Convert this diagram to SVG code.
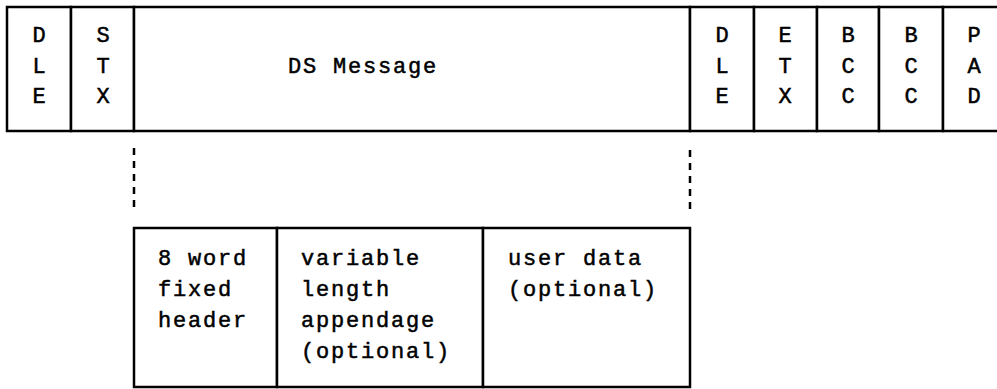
<svg xmlns="http://www.w3.org/2000/svg" width="997" height="389" viewBox="0 0 997 389">
<style>
  .box { fill: #fff; stroke: #000; stroke-width: 2.5; }
  .t { font-family: "Liberation Mono", "DejaVu Sans Mono", monospace; font-size: 22px; letter-spacing: 1.8px; fill: #000; stroke: #000; stroke-width: 0.5; }
  .c { text-anchor: middle; letter-spacing: 0; }
  .dash { stroke: #000; stroke-width: 2.5; stroke-dasharray: 7 6; fill: none; }
</style>
<rect width="997" height="389" fill="#fff"/>
<g id="frame-row">
  <g id="dle1">
    <rect class="box" x="7" y="7" width="64" height="124"/>
    <text class="t c" x="39" y="42">D</text>
    <text class="t c" x="39" y="73">L</text>
    <text class="t c" x="39" y="103">E</text>
  </g>
  <g id="stx">
    <rect class="box" x="71" y="7" width="63" height="124"/>
    <text class="t c" x="103" y="42">S</text>
    <text class="t c" x="103" y="73">T</text>
    <text class="t c" x="103" y="103">X</text>
  </g>
  <g id="ds-message">
    <rect class="box" x="134" y="7" width="556" height="124"/>
    <text class="t" x="288" y="73">DS Message</text>
  </g>
  <g id="dle2">
    <rect class="box" x="690" y="7" width="64" height="124"/>
    <text class="t c" x="722" y="42">D</text>
    <text class="t c" x="722" y="73">L</text>
    <text class="t c" x="722" y="103">E</text>
  </g>
  <g id="etx">
    <rect class="box" x="754" y="7" width="63" height="124"/>
    <text class="t c" x="785" y="42">E</text>
    <text class="t c" x="785" y="73">T</text>
    <text class="t c" x="785" y="103">X</text>
  </g>
  <g id="bcc1">
    <rect class="box" x="817" y="7" width="62" height="124"/>
    <text class="t c" x="848" y="42">B</text>
    <text class="t c" x="848" y="73">C</text>
    <text class="t c" x="848" y="103">C</text>
  </g>
  <g id="bcc2">
    <rect class="box" x="879" y="7" width="64" height="124"/>
    <text class="t c" x="911" y="42">B</text>
    <text class="t c" x="911" y="73">C</text>
    <text class="t c" x="911" y="103">C</text>
  </g>
  <g id="pad">
    <rect class="box" x="943" y="7" width="70" height="124"/>
    <text class="t c" x="974" y="42">P</text>
    <text class="t c" x="974" y="73">A</text>
    <text class="t c" x="974" y="103">D</text>
  </g>
</g>
<g id="connectors">
  <line class="dash" x1="134" y1="148" x2="134" y2="213"/>
  <line class="dash" x1="690" y1="150" x2="690" y2="215"/>
</g>
<g id="message-row">
  <g id="fixed-header">
    <rect class="box" x="134" y="228" width="143" height="159"/>
    <text class="t" x="158" y="265">8 word</text>
    <text class="t" x="158" y="296">fixed</text>
    <text class="t" x="158" y="327">header</text>
  </g>
  <g id="appendage">
    <rect class="box" x="277" y="228" width="206" height="159"/>
    <text class="t" x="301" y="265">variable</text>
    <text class="t" x="301" y="296">length</text>
    <text class="t" x="301" y="327">appendage</text>
    <text class="t" x="301" y="358">(optional)</text>
  </g>
  <g id="user-data">
    <rect class="box" x="483" y="228" width="207" height="159"/>
    <text class="t" x="508" y="265">user data</text>
    <text class="t" x="508" y="296">(optional)</text>
  </g>
</g>
</svg>
